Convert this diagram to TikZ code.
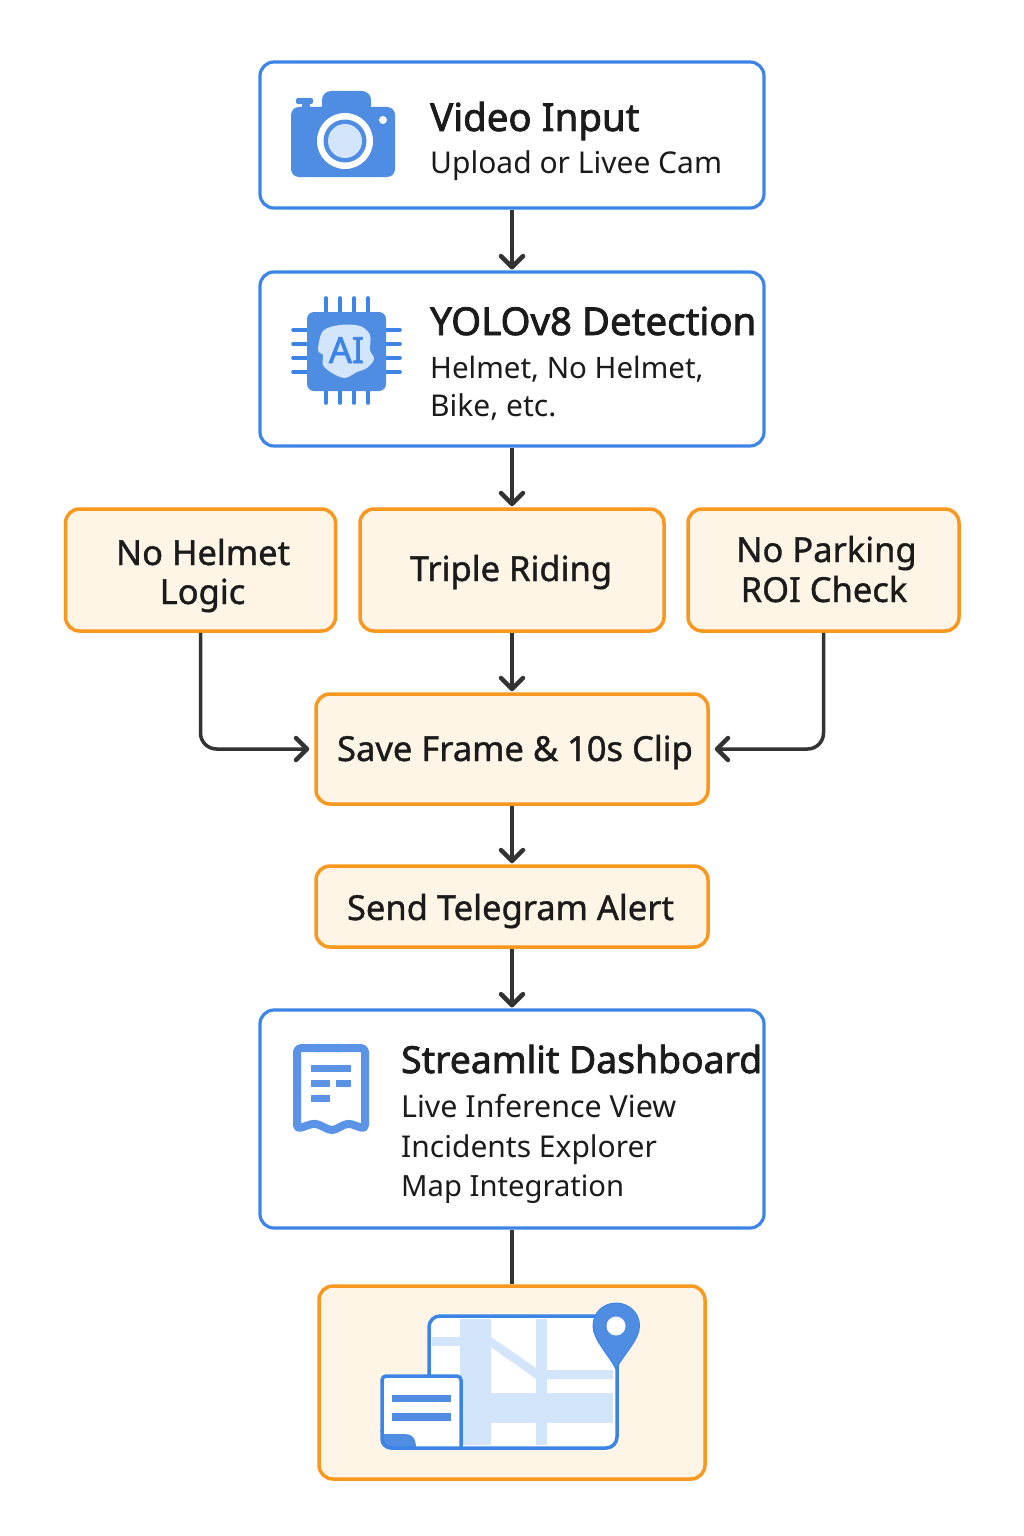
\documentclass[tikz,border=0pt]{standalone}
\usepackage{fontspec}
\setmainfont{Noto Sans}
\newfontfamily\titlefont[FakeBold=2]{Noto Sans}
\newfontfamily\labfont[FakeBold=1.1]{Noto Sans}
\usetikzlibrary{arrows.meta}
\definecolor{bluestroke}{HTML}{3C85E6}
\definecolor{iconblue}{HTML}{4F8DE3}
\definecolor{docblue}{HTML}{5B94E6}
\definecolor{lightblue}{HTML}{D3E5FB}
\definecolor{orangestroke}{HTML}{F9981F}
\definecolor{creamfill}{HTML}{FEF5E7}
\definecolor{inkdark}{HTML}{1B1B1B}
\definecolor{arrowdark}{HTML}{333333}
\tikzset{
  x=1pt,y=-1pt,
  bluebox/.style={draw=bluestroke,line width=3.2pt,fill=white,rounded corners=14pt,inner sep=0pt},
  orangebox/.style={draw=orangestroke,line width=3.5pt,fill=creamfill,rounded corners=14pt,inner sep=0pt},
  title/.style={anchor=base west,inner sep=0pt,text=inkdark,font=\titlefont\fontsize{#1}{#1}\selectfont},
  title/.default=38.4,
  sub/.style={anchor=base west,inner sep=0pt,text=inkdark,font=\fontsize{#1}{#1}\selectfont},
  sub/.default=30,
  lab/.style={anchor=base,inner sep=0pt,text=inkdark,font=\labfont\fontsize{34.5}{34.5}\selectfont},
  flow/.style={draw=arrowdark,line width=3.5pt,shorten >=1pt,-{Straight Barb[length=11pt,width=22pt,line width=4.5pt,round]}},
  plain/.style={draw=arrowdark,line width=3.5pt},
  pin/.style={line width=3.6pt,draw=bluestroke,line cap=round},
}
\begin{document}
\begin{tikzpicture}
\useasboundingbox (0,0) rectangle (1024,1536);
\fill[white] (0,0) rectangle (1024,1536);
% boxes
\node[bluebox,minimum width=504pt,minimum height=146pt] (video) at (512,135) {};
\node[bluebox,minimum width=504pt,minimum height=174pt] (yolo) at (512,359) {};
\node[orangebox,minimum width=270pt,minimum height=122pt] (nohelmet) at (200.5,570) {};
\node[orangebox,minimum width=304pt,minimum height=122pt] (triple) at (512,570) {};
\node[orangebox,minimum width=271pt,minimum height=122pt] (nopark) at (823.5,570) {};
\node[orangebox,minimum width=392pt,minimum height=110pt] (save) at (512,749) {};
\node[orangebox,minimum width=392pt,minimum height=81pt] (send) at (512,906.5) {};
\node[bluebox,minimum width=504pt,minimum height=218pt] (dash) at (512,1119) {};
\node[orangebox,minimum width=386pt,minimum height=193pt] (map) at (512,1382.5) {};
% connectors
\draw[flow] (video) -- (yolo);
\draw[flow] (yolo) -- (triple);
\draw[flow] (triple) -- (save);
\draw[flow] (save) -- (send);
\draw[flow] (send) -- (dash);
\draw[plain] (dash) -- (map);
\draw[flow,shorten >=5pt,rounded corners=16pt] (nohelmet.south) |- (save.west);
\draw[flow,shorten >=5pt,rounded corners=16pt] (nopark.south) |- (save.east);
% text
\node[title] (t1) at (430,131) {Video Input};
\node[sub] (s1) at (430,173) {Upload or Livee Cam};
\node[title] (t2) at (430,335) {YOLOv8 Detection};
\node[sub=29.5] (s2) at (430,378) {Helmet, No Helmet,};
\node[sub] (s3) at (430,416) {Bike, etc.};
\node[lab] (l1) at (203,565) {No Helmet};
\node[lab] (l2) at (202.5,604) {Logic};
\node[lab] (l3) at (511,581) {Triple Riding};
\node[lab] (l4) at (826.5,562) {No Parking};
\node[lab] (l5) at (824,602) {ROI Check};
\node[lab] (l6) at (515,761) {Save Frame \& 10s Clip};
\node[lab] (l7) at (510.5,920) {Send Telegram Alert};
\node[title=37.3] (t3) at (401,1073) {Streamlit Dashboard};
\node[sub=30.4] (s4) at (401,1117) {Live Inference View};
\node[sub] (s5) at (401,1157) {Incidents Explorer};
\node[sub=29.2] (s6) at (401,1196) {Map Integration};
% camera icon
\fill[iconblue,rounded corners=2pt] (296,98) rectangle (313,104);
\fill[iconblue,rounded corners=2pt] (302,103) rectangle (310,110);
\fill[iconblue,rounded corners=9pt] (322,115) -- (322,91) -- (371,91) -- (371,115) -- cycle;
\fill[iconblue,rounded corners=8pt] (291,107) rectangle (395,177);
\fill[white] (345,141) circle (28);
\fill[iconblue] (345,141) circle (21.5);
\fill[lightblue] (345,141) circle (17);
\fill[white] (383,120) circle (4);
% chip icon
\foreach \p in {326,340,354,368} {
  \draw[pin] (\p,298) -- (\p,312);
  \draw[pin] (\p,391) -- (\p,403);
}
\foreach \p in {330,344,358,372} {
  \draw[pin] (293,\p) -- (307,\p);
  \draw[pin] (386,\p) -- (400,\p);
}
\fill[iconblue,rounded corners=7pt] (307,312) rectangle (386,391);
\fill[lightblue] plot[smooth cycle,tension=0.55] coordinates {(318,350) (323,331) (340,325) (360,326) (370,335) (370,350) (374,359) (367,368) (357,372) (345,378) (332,373) (323,365) (323,355)};
\node[anchor=base,inner sep=0pt,text=bluestroke,font=\titlefont\fontsize{36}{36}\selectfont] (ai) at (346.5,363) {AI};
% document icon
\draw[docblue,line width=8pt,line join=round,rounded corners=4pt] (297,1048) -- (365,1048) -- (365,1129) -- (348,1123) -- (332,1131) -- (315,1123) -- (297,1129) -- cycle;
\fill[docblue] (311,1065) rectangle (351,1072);
\fill[docblue] (311,1080) rectangle (330,1087);
\fill[docblue] (336,1080) rectangle (351,1087);
\fill[docblue] (311,1095) rectangle (330,1102);
% map icon
\fill[white,rounded corners=11pt] (429,1316) rectangle (617,1448);
\begin{scope}[lightblue]
\fill (460,1319) rectangle (491,1445);
\fill (536,1319) rectangle (547,1445);
\fill (432,1337) rectangle (460,1346);
\fill (491,1337) -- (536,1368) -- (547,1370) -- (613,1370) -- (613,1379) -- (536,1379) -- (491,1347) -- cycle;
\fill (491,1393) rectangle (613,1423);
\end{scope}
\draw[bluestroke,line width=3.5pt,rounded corners=11pt] (429,1316) rectangle (617,1448);
\fill[white,rounded corners=6pt] (382,1376) -- (461,1376) -- (461,1448) -- (382,1448) -- cycle;
\fill[iconblue] (382,1434) -- (405,1434) .. controls (412,1434) and (416,1438) .. (416,1448) -- (394,1448) .. controls (386,1448) and (382,1444) .. (382,1438) -- cycle;
\draw[bluestroke,line width=3.5pt,rounded corners=9pt] (461,1448) -- (382,1448) -- (382,1430);
\draw[bluestroke,line width=3.5pt,rounded corners=4pt] (382,1432) -- (382,1376) -- (461,1376) -- (461,1448);
\fill[iconblue] (392,1395) rectangle (451,1402);
\fill[iconblue] (392,1413) rectangle (451,1421);
% pin
\fill[iconblue,draw=bluestroke,line width=1pt] (616,1369.5) .. controls (610,1356) and (593,1340) .. (593,1326) .. controls (593,1312) and (604,1303) .. (616,1303) .. controls (628,1303) and (639.5,1312) .. (639.5,1326) .. controls (639.5,1340) and (622,1356) .. (616,1369.5) -- cycle;
\fill[white] (616,1326) circle (9.5);
\end{tikzpicture}
\end{document}
